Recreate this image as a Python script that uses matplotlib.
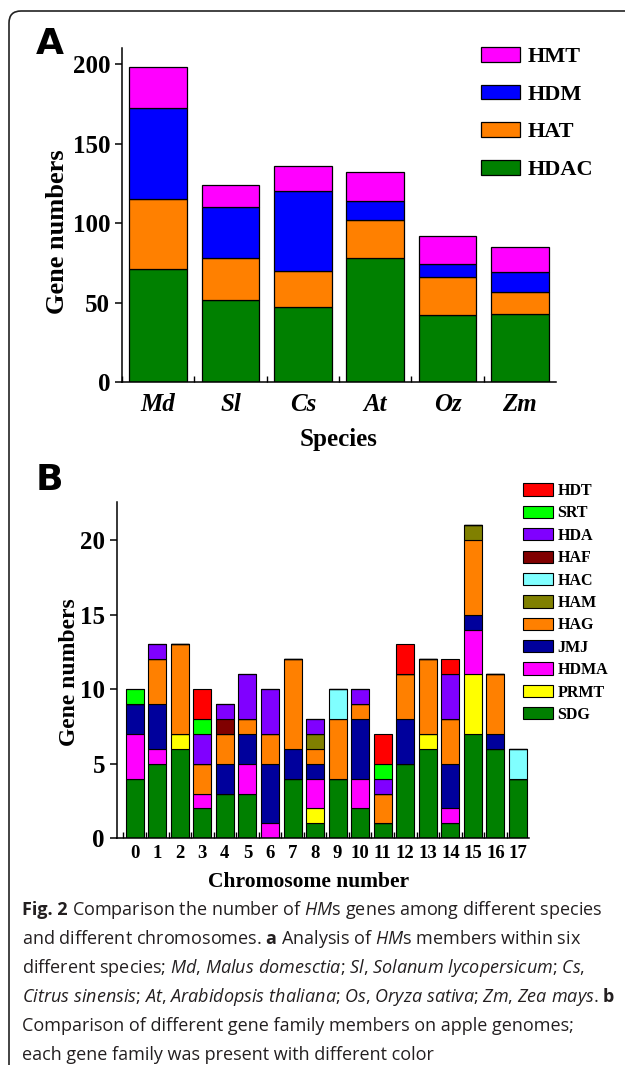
import numpy as np
import matplotlib
matplotlib.use("Agg")
import matplotlib.pyplot as plt
from matplotlib.patches import Patch, FancyBboxPatch
from matplotlib.transforms import IdentityTransform

plt.rcParams['font.family'] = ['Liberation Serif', 'DejaVu Serif']
plt.rcParams['mathtext.fontset'] = 'custom'
plt.rcParams['mathtext.rm'] = 'Open Sans'
plt.rcParams['mathtext.it'] = 'Open Sans:italic'
plt.rcParams['mathtext.bf'] = 'Open Sans:bold'

# ---- panel A: gene families per species
species = ['Md', 'Sl', 'Cs', 'At', 'Oz', 'Zm']
hdac = [71, 52, 47, 78, 42, 43]
hat = [44, 26, 23, 24, 24, 14]
hdm = [57, 32, 50, 12, 8, 12]
hmt = [26, 14, 16, 18, 18, 16]
fam_a = ['HDAC', 'HAT', 'HDM', 'HMT']
col_a = ['#008000', '#FF8000', '#0000FF', '#FF00FF']

# ---- panel B: gene families per apple chromosome
chroms = [str(i) for i in range(18)]
sdg  = [4, 5, 6, 2, 3, 3, 0, 4, 1, 4, 2, 1, 5, 6, 1, 7, 6, 4]
prmt = [0, 0, 1, 0, 0, 0, 0, 0, 1, 0, 0, 0, 0, 1, 0, 4, 0, 0]
hdma = [3, 1, 0, 1, 0, 2, 1, 0, 2, 0, 2, 0, 0, 0, 1, 3, 0, 0]
jmj  = [2, 3, 0, 0, 2, 2, 4, 2, 1, 0, 4, 0, 3, 0, 3, 1, 1, 0]
hag  = [0, 3, 6, 2, 2, 1, 2, 6, 1, 4, 1, 2, 3, 5, 3, 5, 4, 0]
ham  = [0, 0, 0, 0, 0, 0, 0, 0, 1, 0, 0, 0, 0, 0, 0, 1, 0, 0]
hac  = [0, 0, 0, 0, 0, 0, 0, 0, 0, 2, 0, 0, 0, 0, 0, 0, 0, 2]
haf  = [0, 0, 0, 0, 1, 0, 0, 0, 0, 0, 0, 0, 0, 0, 0, 0, 0, 0]
hda  = [0, 1, 0, 2, 1, 3, 3, 0, 1, 0, 1, 1, 0, 0, 3, 0, 0, 0]
srt  = [1, 0, 0, 1, 0, 0, 0, 0, 0, 0, 0, 1, 0, 0, 0, 0, 0, 0]
hdt  = [0, 0, 0, 2, 0, 0, 0, 0, 0, 0, 0, 2, 2, 0, 1, 0, 0, 0]
fam_b = ['SDG', 'PRMT', 'HDMA', 'JMJ', 'HAG', 'HAM', 'HAC', 'HAF', 'HDA', 'SRT', 'HDT']
col_b = ['#008000', '#FFFF00', '#FF00FF', '#00009C', '#FF8000', '#808000',
         '#80FFFF', '#800000', '#8000FF', '#00FF00', '#FF0000']

W, H = 625, 1065
fig = plt.figure(figsize=(W / 100, H / 100), dpi=100)


def box(l, t, r, b):
    return [l / W, 1 - b / H, (r - l) / W, (b - t) / H]


def style(ax):
    for s in ['top', 'right']:
        ax.spines[s].set_visible(False)
    for s in ['left', 'bottom']:
        ax.spines[s].set_linewidth(1.1)
    ax.tick_params(axis='y', direction='out', length=5, width=1.1)
    ax.tick_params(axis='x', which='major', length=0)
    ax.tick_params(axis='x', which='minor', direction='in', length=4, width=1.0)
    for lab in ax.get_yticklabels():
        lab.set_fontweight('bold')


# ---------- A
axA = fig.add_axes(box(122, 48, 556, 382.3))
xa = np.arange(len(species))
bottom = np.zeros(len(species))
for name, vals, c in zip(fam_a, [hdac, hat, hdm, hmt], col_a):
    axA.bar(xa, vals, 0.8, bottom=bottom, color=c, edgecolor='black', lw=0.9, label=name)
    bottom += vals
axA.set_xlim(-0.5, 5.5)
axA.set_ylim(0, 210)
axA.set_yticks([0, 50, 100, 150, 200])
axA.set_xticks(xa)
axA.set_xticks(np.arange(-0.5, 5, 1.0), minor=True)
axA.set_xticklabels(species, fontsize=18, fontweight='bold', style='italic')
axA.tick_params(axis='y', labelsize=18)
axA.tick_params(axis='x', pad=8)
style(axA)
axA.set_ylabel('Gene numbers', fontsize=19, fontweight='bold')
axA.yaxis.set_label_coords(-0.122, 0.45)
axA.set_xlabel('Species', fontsize=18, fontweight='bold')
axA.xaxis.set_label_coords(0.5, -0.137)
h, l = axA.get_legend_handles_labels()
fig.legend(h[::-1], l[::-1], loc='upper left', bbox_to_anchor=(481 / W, 1 - 47 / H),
           frameon=False, prop={'weight': 'bold', 'size': 16},
           handlelength=1.75, handleheight=0.65, handletextpad=0.35,
           labelspacing=0.78, borderpad=0, borderaxespad=0)

# ---------- B
axB = fig.add_axes(box(116.7, 502, 529.3, 838.3))
xb = np.arange(len(chroms))
bottom = np.zeros(len(chroms))
series_b = [sdg, prmt, hdma, jmj, hag, ham, hac, haf, hda, srt, hdt]
for name, vals, c in zip(fam_b, series_b, col_b):
    vals = np.array(vals, dtype=float)
    axB.bar(xb, vals, 0.8, bottom=bottom, color=c, edgecolor='black', lw=0.8, label=name)
    bottom += vals
axB.set_xlim(-0.8, 17.5)
axB.set_ylim(0, 22.55)
axB.set_yticks([0, 5, 10, 15, 20])
axB.set_xticks(xb)
axB.set_xticks(np.arange(-0.5, 17, 1.0), minor=True)
axB.set_xticklabels(chroms, fontsize=13.5, fontweight='bold')
axB.tick_params(axis='y', labelsize=18)
axB.tick_params(axis='x', pad=5)
style(axB)
axB.set_ylabel('Gene numbers', fontsize=17, fontweight='bold')
axB.yaxis.set_label_coords(-0.088, 0.494)
axB.set_xlabel('Chromosome number', fontsize=15.5, fontweight='bold')
axB.xaxis.set_label_coords(0.466, -0.10)
hb = [Patch(facecolor=c, edgecolor='black', lw=0.8) for c in col_b]
fig.legend(hb[::-1], fam_b[::-1], loc='upper left', bbox_to_anchor=(522.5 / W, 1 - 483 / H),
           frameon=False, prop={'weight': 'bold', 'size': 11.5},
           handlelength=1.9, handleheight=0.8, handletextpad=0.3,
           labelspacing=0.4, borderpad=0, borderaxespad=0)

# panel letters
fig.text(36 / W, 1 - 54 / H, 'A', fontsize=26, fontweight='bold', family='DejaVu Sans')
fig.text(36 / W, 1 - 490 / H, 'B', fontsize=26, fontweight='bold', family='DejaVu Sans')

# caption
cap_kw = dict(fontsize=13, family='Open Sans', color='#231F20', va='baseline', ha='left')
first = fig.text(22 / W, 1 - 915 / H, 'Fig. 2', fontweight='bold', **cap_kw)
x_end = first.get_window_extent(fig.canvas.get_renderer()).x1
cap = [
    r"Comparison the number of $\mathit{HM}$s genes among different species",
    r"and different chromosomes. $\mathbf{a}$ Analysis of $\mathit{HM}$s members within six",
    r"different species; $\mathit{Md}$, $\mathit{Malus\ domesctia}$; $\mathit{Sl}$, $\mathit{Solanum\ lycopersicum}$; $\mathit{Cs}$,",
    r"$\mathit{Citrus\ sinensis}$; $\mathit{At}$, $\mathit{Arabidopsis\ thaliana}$; $\mathit{Os}$, $\mathit{Oryza\ sativa}$; $\mathit{Zm}$, $\mathit{Zea\ mays}$. $\mathbf{b}$",
    "Comparison of different gene family members on apple genomes;",
    "each gene family was present with different color",
]
for i, line in enumerate(cap):
    x0 = (x_end + 4.5) / W if i == 0 else 22 / W
    fig.text(x0, 1 - (915 + i * 29) / H, line, **cap_kw)

# rounded frame around the figure
frame = FancyBboxPatch((9, -40), 700, H - 11 + 40, boxstyle='round,pad=0,rounding_size=12',
                       transform=IdentityTransform(), fill=False, edgecolor='#222222', lw=1.2)
fig.patches.append(frame)

fig.savefig('out.png', dpi=100)
